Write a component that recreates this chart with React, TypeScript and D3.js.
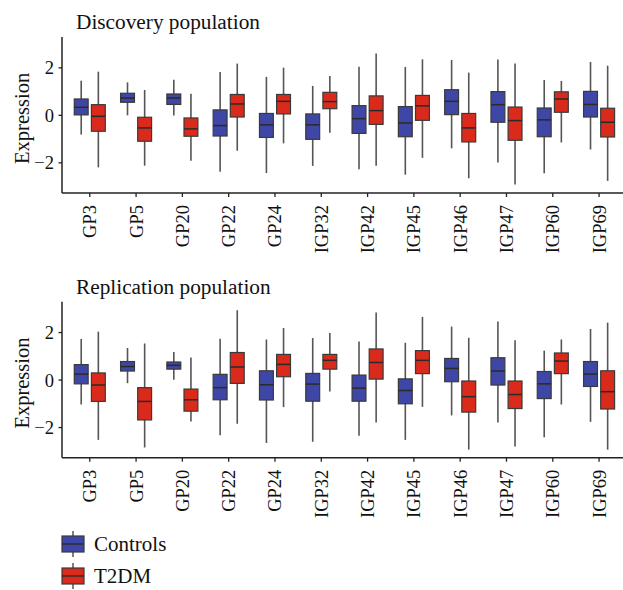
import React from "react";
import * as d3 from "d3";

const genes = ["GP3", "GP5", "GP20", "GP22", "GP24", "IGP32", "IGP42", "IGP45", "IGP46", "IGP47", "IGP60", "IGP69"];
const groups = ["Controls", "T2DM"];
const groupColors = ["#3F47A6", "#DA2A1C"];
const yTicks = [-2, 0, 2];

// [lower whisker, Q1, median, Q3, upper whisker]
const discoveryControls = [
  [-0.81, 0.02, 0.34, 0.69, 1.46],
  [0.0, 0.55, 0.73, 0.93, 1.39],
  [-0.01, 0.46, 0.73, 0.9, 1.5],
  [-2.37, -0.87, -0.43, 0.23, 1.83],
  [-2.43, -0.93, -0.4, 0.08, 1.62],
  [-2.13, -1.01, -0.4, 0.06, 1.24],
  [-2.27, -0.76, -0.14, 0.41, 2.05],
  [-2.5, -0.9, -0.32, 0.37, 2.04],
  [-1.39, 0.03, 0.59, 1.08, 2.33],
  [-1.99, -0.29, 0.45, 1.0, 2.35],
  [-2.44, -0.9, -0.19, 0.31, 1.49],
  [-1.44, -0.07, 0.46, 1.01, 2.25],
];
const discoveryT2DM = [
  [-2.19, -0.67, -0.04, 0.45, 1.84],
  [-2.12, -1.09, -0.53, -0.08, 1.07],
  [-1.91, -0.88, -0.57, -0.11, 0.91],
  [-1.49, -0.07, 0.48, 0.88, 2.18],
  [-1.18, 0.06, 0.59, 0.88, 2.01],
  [-0.73, 0.28, 0.58, 0.97, 1.66],
  [-2.12, -0.38, 0.2, 0.82, 2.61],
  [-1.79, -0.21, 0.4, 0.84, 2.36],
  [-2.65, -1.12, -0.53, 0.08, 1.8],
  [-2.91, -1.05, -0.22, 0.35, 2.18],
  [-1.14, 0.13, 0.69, 0.99, 1.45],
  [-2.76, -0.91, -0.29, 0.3, 2.09],
];
const replicationControls = [
  [-1.03, -0.16, 0.25, 0.65, 1.73],
  [-0.13, 0.38, 0.57, 0.78, 1.35],
  [0.01, 0.46, 0.62, 0.76, 1.18],
  [-2.32, -0.83, -0.32, 0.24, 1.74],
  [-2.65, -0.84, -0.2, 0.39, 1.71],
  [-2.6, -0.89, -0.17, 0.28, 1.77],
  [-2.35, -0.89, -0.34, 0.21, 1.62],
  [-2.52, -1.0, -0.44, 0.05, 1.57],
  [-1.49, -0.07, 0.49, 0.91, 2.25],
  [-1.79, -0.21, 0.38, 0.94, 2.47],
  [-2.41, -0.78, -0.16, 0.36, 1.24],
  [-1.76, -0.27, 0.25, 0.78, 2.15],
];
const replicationT2DM = [
  [-2.52, -0.9, -0.21, 0.3, 2.04],
  [-2.84, -1.68, -0.9, -0.32, 1.54],
  [-1.75, -1.31, -0.83, -0.38, 0.95],
  [-1.84, -0.14, 0.55, 1.16, 2.94],
  [-1.14, 0.14, 0.66, 1.08, 2.19],
  [-0.48, 0.46, 0.83, 1.08, 1.98],
  [-1.79, 0.04, 0.74, 1.31, 2.84],
  [-1.13, 0.27, 0.83, 1.24, 2.66],
  [-2.93, -1.35, -0.7, -0.04, 1.78],
  [-2.8, -1.2, -0.61, -0.04, 1.68],
  [-1.03, 0.27, 0.8, 1.14, 1.71],
  [-2.93, -1.22, -0.49, 0.39, 2.42],
];

const FONT = '"Liberation Serif", "Times New Roman", Tinos, "DejaVu Serif", serif';
const AXIS_LEFT = 62;
const UNIT = 46.3;

const txt = (size: number): React.CSSProperties => ({ fontFamily: FONT, fontSize: size });

function Panel({ title, top, data }: { title: string; top: number; data: number[][][] }) {
  const y = d3.scaleLinear().domain([-3.27, 3.3]).range([top + 156, top]);
  const x = d3.scaleLinear().domain([0.4, 12.6]).range([AXIS_LEFT, AXIS_LEFT + 12.2 * UNIT]);
  const offsets = [-0.185, 0.185];
  const bw = 0.3 * UNIT;
  const bottom = top + 156;
  return (
    <g>
      <text x={76} y={top - 8} style={txt(21.3)} fill="#111">{title}</text>
      <text
        transform={`translate(29, ${y(0) + 3}) rotate(-90)`}
        textAnchor="middle"
        style={txt(20.5)}
        fill="#111"
      >
        Expression
      </text>
      {data.map((series, gi) =>
        series.map((s, i) => {
          const cx = x(i + 1 + offsets[gi]);
          return (
            <g key={`${gi}-${i}`}>
              <line x1={cx} x2={cx} y1={y(s[4])} y2={y(s[0])} stroke="#555" strokeWidth={1.6} />
              <rect
                x={cx - bw / 2}
                width={bw}
                y={y(s[3])}
                height={y(s[1]) - y(s[3])}
                fill={groupColors[gi]}
                stroke="#3a3a3a"
                strokeWidth={1.2}
              />
              <line x1={cx - bw / 2} x2={cx + bw / 2} y1={y(s[2])} y2={y(s[2])} stroke="#2a2a2a" strokeWidth={1.5} />
            </g>
          );
        })
      )}
      <line x1={AXIS_LEFT} x2={AXIS_LEFT} y1={top} y2={bottom} stroke="#222" strokeWidth={1.5} />
      <line x1={AXIS_LEFT} x2={623} y1={bottom} y2={bottom} stroke="#222" strokeWidth={1.5} />
      {yTicks.map((t) => (
        <g key={t}>
          <line x1={AXIS_LEFT - 3.5} x2={AXIS_LEFT} y1={y(t)} y2={y(t)} stroke="#222" strokeWidth={1.3} />
          <text x={AXIS_LEFT - 8} y={y(t)} dy="0.35em" textAnchor="end" style={txt(18.5)} fill="#111">
            {t < 0 ? `\u2212${Math.abs(t)}` : t}
          </text>
        </g>
      ))}
      {genes.map((g, i) => {
        const cx = x(i + 1);
        return (
          <g key={g}>
            <line x1={cx} x2={cx} y1={bottom} y2={bottom + 4} stroke="#222" strokeWidth={1.3} />
            <text
              transform={`translate(${cx}, ${bottom + 12}) rotate(-90)`}
              dy="0.35em"
              textAnchor="end"
              style={txt(18.5)}
              fill="#111"
            >
              {g}
            </text>
          </g>
        );
      })}
    </g>
  );
}

export default function App() {
  const legendY = [544, 576];
  return (
    <svg width={623} height={590} style={{ position: "absolute", left: 0, top: 0, background: "#fff" }}>
      <rect width={623} height={590} fill="#fff" />
      <Panel title="Discovery population" top={37} data={[discoveryControls, discoveryT2DM]} />
      <Panel title="Replication population" top={301.7} data={[replicationControls, replicationT2DM]} />
      {groups.map((g, i) => (
        <g key={g}>
          <line x1={73} x2={73} y1={legendY[i] - 13} y2={legendY[i] + 13} stroke="#555" strokeWidth={1.5} />
          <rect x={62} y={legendY[i] - 8} width={22} height={16} fill={groupColors[i]} stroke="#3a3a3a" strokeWidth={1.2} />
          <line x1={62} x2={84} y1={legendY[i]} y2={legendY[i]} stroke="#2a2a2a" strokeWidth={1.4} />
          <text x={94} y={legendY[i]} dy="0.35em" style={txt(21)} fill="#111">{g}</text>
        </g>
      ))}
    </svg>
  );
}
